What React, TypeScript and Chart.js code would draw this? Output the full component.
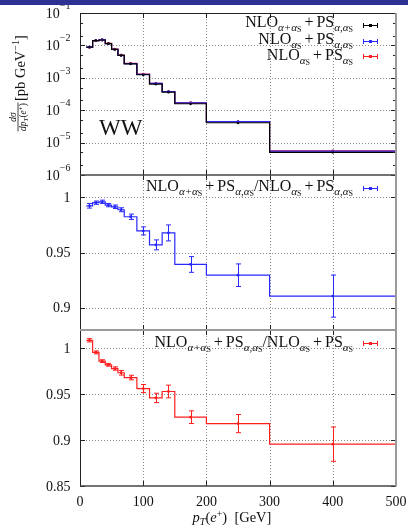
import React, { useEffect, useRef } from 'react';
import { Chart, registerables } from 'chart.js';
Chart.register(...registerables);

// ---------------- data ----------------
const binEdges = [10, 20, 30, 40, 50, 60, 70, 90, 110, 130, 150, 200, 300, 500];
const binCenters = [15, 25, 35, 45, 55, 65, 80, 100, 120, 140, 175, 250, 400];
// dsigma/dpT [pb/GeV]
const xsecFull = [8.8e-3, 1.40e-2, 1.47e-2, 1.13e-2, 7.5e-3, 4.9e-3, 2.7e-3, 1.24e-3, 6.4e-4, 3.6e-4, 1.58e-4, 4.1e-5, 5.0e-6];
const xsecQcdNloPsFull = [8.87e-3, 1.407e-2, 1.476e-2, 1.138e-2, 7.57e-3, 4.96e-3, 2.75e-3, 1.28e-3, 6.69e-4, 3.72e-4, 1.68e-4, 4.41e-5, 5.49e-6];
const xsecQcdOnly = [8.72e-3, 1.406e-2, 1.491e-2, 1.151e-2, 7.67e-3, 5.03e-3, 2.79e-3, 1.30e-3, 6.77e-4, 3.78e-4, 1.71e-4, 4.47e-5, 5.58e-6];
// ratios
const ratioBlue = [0.9922, 0.995, 0.9958, 0.9928, 0.9913, 0.9886, 0.9823, 0.9695, 0.9569, 0.9677, 0.9392, 0.9295, 0.9106];
const ratioBlueErr = [0.0021, 0.0015, 0.0015, 0.0015, 0.0016, 0.0018, 0.0024, 0.0036, 0.0045, 0.0072, 0.0071, 0.0102, 0.019];
const ratioRed = [1.0088, 0.9956, 0.9861, 0.9821, 0.978, 0.9734, 0.9682, 0.9562, 0.946, 0.953, 0.925, 0.918, 0.8956];
const ratioRedErr = [0.0018, 0.0016, 0.0015, 0.0015, 0.0018, 0.0025, 0.0025, 0.0044, 0.0051, 0.0069, 0.0069, 0.0099, 0.0187];
// ticks
const xTickValues = [0, 100, 200, 300, 400, 500];
const xTickLabels = ['0', '100', '200', '300', '400', '500'];
const logTickExponents = [-1, -2, -3, -4, -5, -6];
const midTickValues = [1, 0.95, 0.9];
const midTickLabels = ['1', '0.95', '0.9'];
const botTickValues = [1, 0.95, 0.9, 0.85];
const botTickLabels = ['1', '0.95', '0.9', '0.85'];

const BLACK = '#000000';
const BLUE = 'rgb(40,40,255)';
const RED = 'rgb(255,30,30)';
const FAMILY = '"Liberation Serif", "DejaVu Serif", serif';

type Seg = { t: string; size?: number; dy?: number; italic?: boolean; gl?: number; gr?: number };

function segFont(s: Seg, base: number) {
  return `${s.italic ? 'italic ' : ''}${s.size ?? base}px ${FAMILY}`;
}
function richWidth(ctx: CanvasRenderingContext2D, segs: Seg[], base: number) {
  let w = 0;
  for (const s of segs) {
    ctx.font = segFont(s, base);
    w += ctx.measureText(s.t).width + (s.gl ?? 0) + (s.gr ?? 0);
  }
  return w;
}
function drawRich(ctx: CanvasRenderingContext2D, segs: Seg[], x: number, y: number, align: string, base: number) {
  const total = richWidth(ctx, segs, base);
  let cx = align === 'left' ? x : align === 'right' ? x - total : x - total / 2;
  ctx.textAlign = 'left';
  ctx.textBaseline = 'alphabetic';
  for (const s of segs) {
    ctx.font = segFont(s, base);
    cx += s.gl ?? 0;
    ctx.fillText(s.t, cx, y + (s.dy ?? 0));
    cx += ctx.measureText(s.t).width + (s.gr ?? 0);
  }
  return total;
}

const subA = (t: string): Seg[] => [{ t, size: 11, dy: 3.5, italic: true }, { t: 'S', size: 8, dy: 5 }];
const plus: Seg = { t: '+', gl: 3, gr: 3 };
const segFull: Seg[] = [{ t: 'NLO' }, ...subA('α+α'), plus, { t: 'PS' }, ...subA('α,α')];
const segQcdNloFullPs: Seg[] = [{ t: 'NLO' }, ...subA('α'), plus, { t: 'PS' }, ...subA('α,α')];
const segQcd: Seg[] = [{ t: 'NLO' }, ...subA('α'), plus, { t: 'PS' }, ...subA('α')];

function stepData(vals: number[]) {
  const out: { x: number; y: number }[] = [];
  vals.forEach((v, i) => {
    out.push({ x: binEdges[i], y: v });
    out.push({ x: binEdges[i + 1], y: v });
  });
  return out;
}
function pointData(vals: number[]) {
  return vals.map((v, i) => ({ x: binCenters[i], y: v }));
}

function stepDs(vals: number[], color: string, axis: string) {
  return {
    data: stepData(vals), yAxisID: axis, borderColor: color, borderWidth: 1.2,
    pointRadius: 0, fill: false, tension: 0,
  };
}
function ptDs(vals: number[], color: string, axis: string) {
  return {
    data: pointData(vals), yAxisID: axis, showLine: false, borderColor: color,
    backgroundColor: color, pointRadius: 1.4, pointBorderWidth: 0, pointBackgroundColor: color,
  };
}

function hline(ctx: CanvasRenderingContext2D, x1: number, x2: number, y: number) {
  ctx.beginPath(); ctx.moveTo(x1, y); ctx.lineTo(x2, y); ctx.stroke();
}
function vline(ctx: CanvasRenderingContext2D, x: number, y1: number, y2: number) {
  ctx.beginPath(); ctx.moveTo(x, y1); ctx.lineTo(x, y2); ctx.stroke();
}

const framePlugin = {
  id: 'frame',
  beforeDatasetsDraw(chart: any) {
    const ctx: CanvasRenderingContext2D = chart.ctx;
    const xs = chart.scales.x;
    const panels = [chart.scales.yTop, chart.scales.yMid, chart.scales.yBot];
    ctx.save();
    ctx.strokeStyle = '#8a8a8a';
    ctx.lineWidth = 1;
    ctx.setLineDash([1, 2]);
    for (const p of panels) {
      for (const v of [100, 200, 300, 400]) {
        const x = Math.round(xs.getPixelForValue(v)) + 0.5;
        vline(ctx, x, p.top, p.bottom);
      }
    }
    const hvals: [any, number[]][] = [
      [chart.scales.yTop, [1e-2, 1e-3, 1e-4, 1e-5]],
      [chart.scales.yMid, midTickValues],
      [chart.scales.yBot, [1, 0.95, 0.9]],
    ];
    for (const [s, vals] of hvals) {
      for (const v of vals) {
        const y = Math.round(s.getPixelForValue(v)) + 0.5;
        hline(ctx, xs.left, xs.right, y);
      }
    }
    ctx.restore();
  },
  afterDatasetsDraw(chart: any) {
    const ctx: CanvasRenderingContext2D = chart.ctx;
    const xs = chart.scales.x;
    const yTop = chart.scales.yTop, yMid = chart.scales.yMid, yBot = chart.scales.yBot;
    const L = xs.left, R = xs.right;
    ctx.save();
    // error bars
    const eb = (s: any, vals: number[], errs: number[], color: string) => {
      ctx.strokeStyle = color; ctx.lineWidth = 1;
      vals.forEach((v, i) => {
        const x = Math.round(xs.getPixelForValue(binCenters[i])) + 0.5;
        const y1 = s.getPixelForValue(v + errs[i]);
        const y2 = s.getPixelForValue(v - errs[i]);
        vline(ctx, x, y1, y2);
        hline(ctx, x - 2.5, x + 2.5, y1);
        hline(ctx, x - 2.5, x + 2.5, y2);
      });
    };
    eb(yMid, ratioBlue, ratioBlueErr, BLUE);
    eb(yBot, ratioRed, ratioRedErr, RED);

    // ticks
    ctx.strokeStyle = '#222';
    ctx.lineWidth = 1;
    const panels = [yTop, yMid, yBot];
    for (const p of panels) {
      for (const v of xTickValues.slice(1, -1)) {
        const x = Math.round(xs.getPixelForValue(v)) + 0.5;
        vline(ctx, x, p.top, p.top + 5);
        vline(ctx, x, p.bottom - 5, p.bottom);
      }
    }
    for (let e = -6; e <= -1; e++) {
      const y = Math.round(yTop.getPixelForValue(Math.pow(10, e))) + 0.5;
      hline(ctx, L, L + 5, y); hline(ctx, R - 5, R, y);
      if (e < -1) {
        for (const m of [2, 5]) {
          const ym = Math.round(yTop.getPixelForValue(m * Math.pow(10, e))) + 0.5;
          hline(ctx, L, L + 3, ym); hline(ctx, R - 3, R, ym);
        }
      }
    }
    for (const v of midTickValues) {
      const y = Math.round(yMid.getPixelForValue(v)) + 0.5;
      hline(ctx, L, L + 5, y); hline(ctx, R - 5, R, y);
    }
    for (const v of botTickValues) {
      const y = Math.round(yBot.getPixelForValue(v)) + 0.5;
      hline(ctx, L, L + 5, y); hline(ctx, R - 5, R, y);
    }

    // borders
    ctx.strokeStyle = '#222';
    ctx.lineWidth = 1;
    vline(ctx, L + 0.5, yTop.top, yBot.bottom);
    hline(ctx, L, R, Math.round(yTop.top) + 0.5);
    ctx.strokeStyle = '#444';
    ctx.lineWidth = 1.5;
    hline(ctx, L, R, Math.round(yTop.bottom));
    hline(ctx, L, R, Math.round(yBot.bottom));
    ctx.strokeStyle = '#9a9a9a';
    ctx.lineWidth = 2;
    hline(ctx, L, R, Math.round(yMid.bottom));
    vline(ctx, R, yTop.top, yBot.bottom + 0.5);

    // tick labels
    ctx.fillStyle = '#111';
    const labelRight = L - 9.5;
    for (const e of logTickExponents) {
      const y = yTop.getPixelForValue(Math.pow(10, e));
      drawRich(ctx, [{ t: '10' }, { t: '−' + String(-e), size: 10, dy: -8.5 }], labelRight, y + 4.5, 'right', 14);
    }
    midTickValues.forEach((v, i) => {
      const y = yMid.getPixelForValue(v);
      drawRich(ctx, [{ t: midTickLabels[i] }], labelRight, y + 4.5, 'right', 14);
    });
    botTickValues.forEach((v, i) => {
      const y = yBot.getPixelForValue(v);
      drawRich(ctx, [{ t: botTickLabels[i] }], labelRight, y + 4.5, 'right', 14);
    });
    xTickValues.forEach((v, i) => {
      const x = xs.getPixelForValue(v);
      drawRich(ctx, [{ t: xTickLabels[i] }], x, yBot.bottom + 19.5, 'center', 14);
    });

    // x title
    drawRich(ctx, [
      { t: 'p', italic: true }, { t: 'T', size: 10, dy: 3, italic: true }, { t: '(' }, { t: 'e', italic: true },
      { t: '+', size: 10, dy: -5 }, { t: ')  [GeV]' },
    ], 232, 522, 'center', 14.5);

    // y title (rotated)
    ctx.save();
    ctx.translate(24.5, 101);
    ctx.rotate(-Math.PI / 2);
    drawRich(ctx, [{ t: '[pb GeV' }, { t: '−1', size: 10, dy: -5.5 }, { t: ']' }], 0, 0, 'left', 14.5);
    const num: Seg[] = [{ t: 'dσ', italic: true }];
    const den: Seg[] = [{ t: 'dp', italic: true }, { t: 'T', size: 7, dy: 2, italic: true }, { t: '(' }, { t: 'e', italic: true }, { t: '+', size: 7, dy: -3 }, { t: ')' }];
    const wn = richWidth(ctx, num, 9.5), wd = richWidth(ctx, den, 9.5);
    drawRich(ctx, num, -16, -8.5, 'center', 9.5);
    drawRich(ctx, den, -16, 1, 'center', 9.5);
    ctx.strokeStyle = '#111'; ctx.lineWidth = 0.8;
    const bw = Math.max(wn, wd) + 1;
    hline(ctx, -16 - bw / 2, -16 + bw / 2, -6.5);
    ctx.restore();

    // WW label
    drawRich(ctx, [{ t: 'WW' }], 99, 135, 'left', 23);

    // legends
    const marker = (y: number, color: string) => {
      ctx.strokeStyle = color; ctx.lineWidth = 1;
      hline(ctx, 363, 378, Math.round(y) + 0.5);
      vline(ctx, 363.5, y - 2, y + 3);
      vline(ctx, 377.5, y - 2, y + 3);
      ctx.fillStyle = color;
      ctx.fillRect(369, Math.round(y) - 1, 3, 3);
      ctx.fillStyle = '#111';
    };
    ctx.fillStyle = '#111';
    drawRich(ctx, segFull, 353, 27, 'right', 16); marker(25, BLACK);
    drawRich(ctx, segQcdNloFullPs, 353, 44, 'right', 16); marker(41, BLUE);
    drawRich(ctx, segQcd, 353, 60, 'right', 16); marker(56, RED);
    drawRich(ctx, [...segFull, { t: '/' }, ...segQcdNloFullPs], 353, 191, 'right', 16); marker(188, BLUE);
    drawRich(ctx, [...segFull, { t: '/' }, ...segQcd], 353, 347, 'right', 16); marker(343, RED);

    // top banner
    ctx.fillStyle = '#2e3191';
    ctx.fillRect(0, 0, 408, 5);
    ctx.restore();
  },
};

export default function App() {
  const ref = useRef<HTMLCanvasElement>(null);
  useEffect(() => {
    const zero = (s: any) => { if (s.isHorizontal()) s.height = 0; else s.width = 0; };
    const hidden = { ticks: { display: false }, grid: { display: false, drawTicks: false }, border: { display: false }, afterFit: zero };
    const chart = new Chart(ref.current as HTMLCanvasElement, {
      type: 'line',
      data: {
        datasets: [
          stepDs(xsecFull, BLACK, 'yTop'),
          stepDs(xsecQcdNloPsFull, BLUE, 'yTop'),
          stepDs(xsecQcdOnly, RED, 'yTop'),
          ptDs(xsecFull, BLACK, 'yTop'),
          ptDs(xsecQcdNloPsFull, BLUE, 'yTop'),
          ptDs(xsecQcdOnly, RED, 'yTop'),
          stepDs(ratioBlue, BLUE, 'yMid'),
          ptDs(ratioBlue, BLUE, 'yMid'),
          stepDs(ratioRed, RED, 'yBot'),
          ptDs(ratioRed, RED, 'yBot'),
        ] as any,
      },
      options: {
        responsive: false,
        animation: false,
        events: [],
        layout: { padding: { left: 80, right: 12, top: 13, bottom: 44 } },
        plugins: { legend: { display: false }, tooltip: { enabled: false } },
        scales: {
          x: { type: 'linear', min: 0, max: 500, ...hidden },
          yTop: { type: 'logarithmic', min: 1e-6, max: 1e-1, position: 'left', stack: 'v', stackWeight: 162, weight: 3, ...hidden },
          yMid: { type: 'linear', min: 0.88, max: 1.02, position: 'left', stack: 'v', stackWeight: 155, weight: 2, ...hidden },
          yBot: { type: 'linear', min: 0.85, max: 1.02, position: 'left', stack: 'v', stackWeight: 156, weight: 1, ...hidden },
        } as any,
      },
      plugins: [framePlugin],
    });
    return () => chart.destroy();
  }, []);
  return (
    <div style={{ position: 'fixed', left: 0, top: 0, width: 408, height: 530, background: '#fff' }}>
      <canvas ref={ref} width={408} height={530} style={{ display: 'block', width: 408, height: 530 }} />
    </div>
  );
}
